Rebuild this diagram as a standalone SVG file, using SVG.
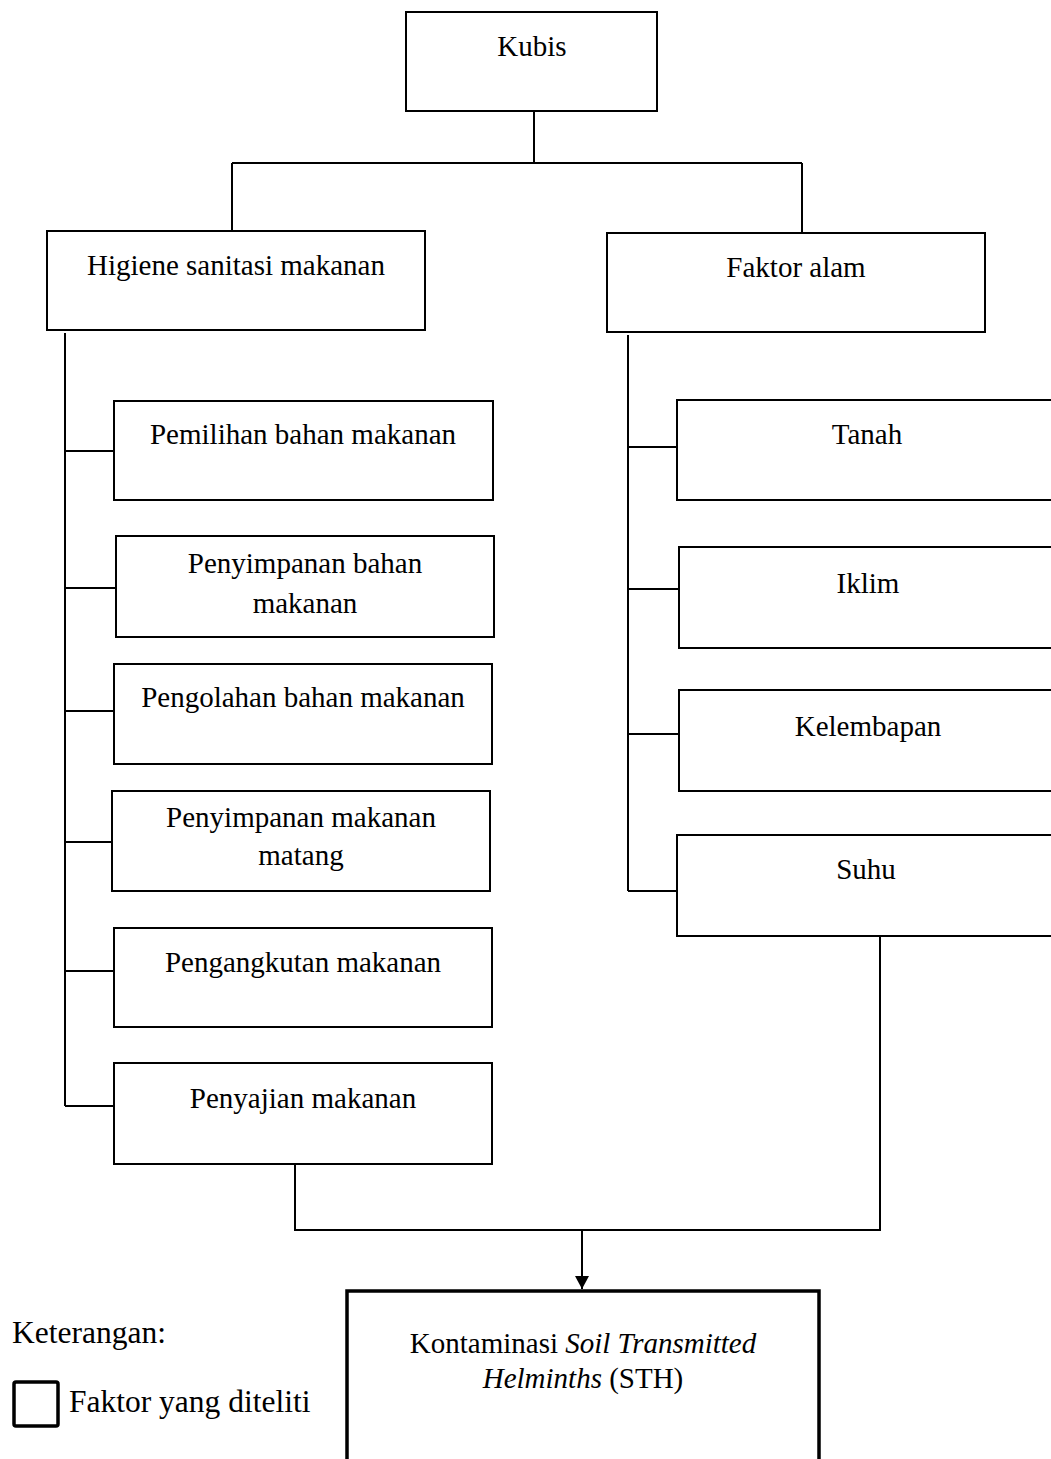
<svg xmlns="http://www.w3.org/2000/svg" width="1051" height="1459" viewBox="0 0 1051 1459">
<defs>
<style>
.box{fill:#fff;stroke:#000;stroke-width:2}
.bold{fill:#fff;stroke:#000;stroke-width:3.5}
.ln{fill:none;stroke:#000;stroke-width:2}
text{font-family:"Liberation Serif","Times New Roman",serif;font-size:29px;fill:#000}
.c{text-anchor:middle}
.lg{font-size:31.5px}
</style>
<marker id="arr" viewBox="0 0 13 14" refX="13" refY="7" markerWidth="13" markerHeight="14" markerUnits="userSpaceOnUse" orient="auto"><path d="M0,0 L13,7 L0,14 z" fill="#000"/></marker>
</defs>
<rect width="1051" height="1459" fill="#fff"/>
<g id="connectors">
<path class="ln" d="M534,111 V163 M232,163 H802 M232,163 V231 M802,163 V233"/>
<path class="ln" d="M65,333 V1106 M65,451 H114 M65,588 H116 M65,711 H114 M65,842 H112 M65,971 H114 M65,1106 H114"/>
<path class="ln" d="M628,335 V891 M628,447 H677 M628,589 H679 M628,734 H679 M628,891 H677"/>
<path class="ln" d="M295,1164 V1230 H880 V936"/>
<path class="ln" d="M582,1230 V1289" marker-end="url(#arr)"/>
</g>
<g id="kubis"><rect class="box" x="406" y="12" width="251" height="99"/><text class="c" x="532" y="56">Kubis</text></g>
<g id="higiene"><rect class="box" x="47" y="231" width="378" height="99"/><text class="c" x="236" y="275">Higiene sanitasi makanan</text></g>
<g id="faktor-alam"><rect class="box" x="607" y="233" width="378" height="99"/><text class="c" x="796" y="277">Faktor alam</text></g>
<g id="pemilihan"><rect class="box" x="114" y="401" width="379" height="99"/><text class="c" x="303" y="444">Pemilihan bahan makanan</text></g>
<g id="penyimpanan-bahan"><rect class="box" x="116" y="536" width="378" height="101"/><text class="c" x="305" y="573">Penyimpanan bahan</text><text class="c" x="305" y="613">makanan</text></g>
<g id="pengolahan"><rect class="box" x="114" y="664" width="378" height="100"/><text class="c" x="303" y="707">Pengolahan bahan makanan</text></g>
<g id="penyimpanan-matang"><rect class="box" x="112" y="791" width="378" height="100"/><text class="c" x="301" y="827">Penyimpanan makanan</text><text class="c" x="301" y="865">matang</text></g>
<g id="pengangkutan"><rect class="box" x="114" y="928" width="378" height="99"/><text class="c" x="303" y="972">Pengangkutan makanan</text></g>
<g id="penyajian"><rect class="box" x="114" y="1063" width="378" height="101"/><text class="c" x="303" y="1108">Penyajian makanan</text></g>
<g id="tanah"><rect class="box" x="677" y="400" width="390" height="100"/><text class="c" x="867" y="444">Tanah</text></g>
<g id="iklim"><rect class="box" x="679" y="547" width="390" height="101"/><text class="c" x="868" y="593">Iklim</text></g>
<g id="kelembapan"><rect class="box" x="679" y="690" width="390" height="101"/><text class="c" x="868" y="736">Kelembapan</text></g>
<g id="suhu"><rect class="box" x="677" y="835" width="390" height="101"/><text class="c" x="866" y="879">Suhu</text></g>
<g id="sth"><rect class="bold" x="347" y="1291" width="472" height="200"/><text class="c" x="583" y="1353">Kontaminasi <tspan font-style="italic">Soil Transmitted</tspan></text><text class="c" x="583" y="1388"><tspan font-style="italic">Helminths</tspan> (STH)</text></g>
<g id="legend"><text class="lg" x="12" y="1343">Keterangan:</text><rect class="bold" x="14" y="1382" width="44" height="44" rx="2"/><text class="lg" x="69" y="1412">Faktor yang diteliti</text></g>
</svg>
